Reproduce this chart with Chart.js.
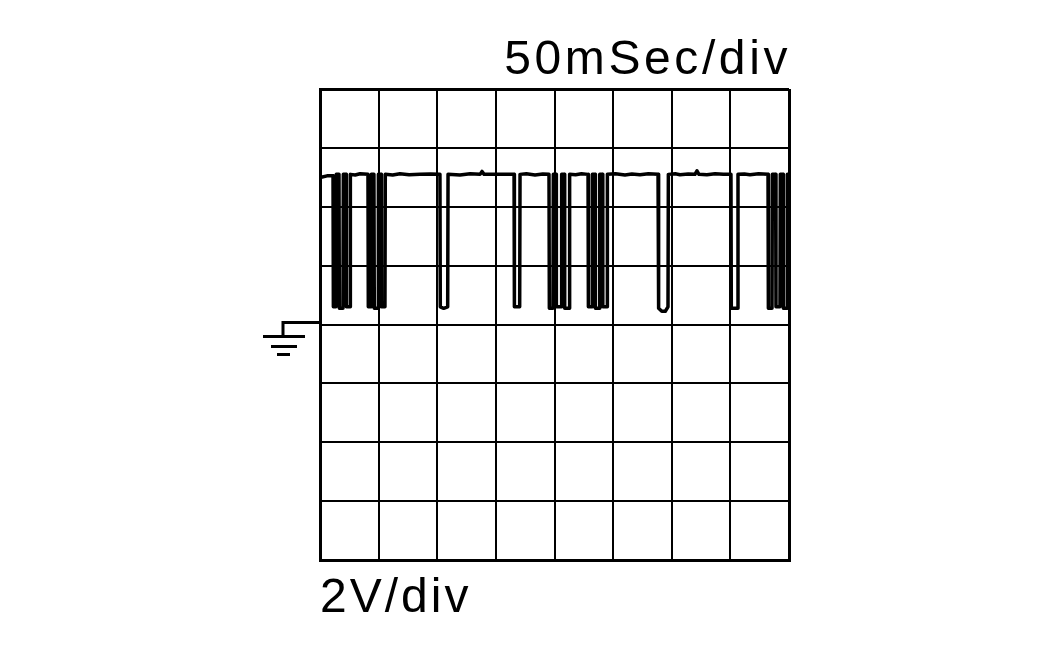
<!DOCTYPE html>
<html>
<head>
<meta charset="utf-8">
<script src="https://cdn.jsdelivr.net/npm/chart.js@4/dist/chart.umd.min.js"></script>
<style>
  html, body { margin: 0; padding: 0; background: #fff; }
  #wrap { width: 1052px; height: 650px; }
</style>
</head>
<body>
<div id="wrap"><canvas id="scope"></canvas></div>
<script>
// trace, time in ms (50 ms/div), voltage in V (2 V/div)
var traceTime = [
  1, 6, 11.1, 11.4, 13.6, 13.9, 16.2, 16.5, 19.6, 19.9, 22.2, 22.5, 25.6, 25.9,
  30.0, 34.1, 40.9, 41.2, 43.5, 43.8, 46.0, 46.3, 49.5, 49.8, 52.1, 52.4, 55.4, 55.7,
  62.0, 68.2, 76.0, 85.3, 94.0, 102.3, 102.6, 105.5, 108.9, 109.2, 119.4, 128.0, 136.5,
  138.2, 140.0, 153.5, 165.5, 165.8, 170.3, 170.6, 176.0, 183.4, 190.0, 195.3, 195.6,
  198.7, 199.0, 201.3, 201.6, 205.8, 206.1, 208.4, 208.7, 212.6, 212.9, 218.0, 223.0,
  228.6, 228.9, 232.0, 232.3, 234.6, 234.9, 238.3, 238.6, 240.9, 241.2, 244.8, 245.1,
  252.0, 260.1, 266.0, 272.9, 280.0, 288.3, 288.8, 291.5, 294.5, 296.8, 297.1, 303.0,
  307.0, 314.0, 319.8, 321.5, 323.2, 330.0, 336.9, 344.0, 350.5, 350.8, 356.2, 356.5,
  362.0, 366.7, 374.0, 382.1, 382.4, 385.5, 385.8, 388.6, 388.9, 392.3, 392.6, 394.9,
  395.2, 398.3, 398.6, 400
];
var traceVolt = [
  5.0, 5.05, 5.05, 0.6, 0.6, 5.1, 5.1, 0.55, 0.55, 5.1, 5.1, 0.6, 0.6, 5.1,
  5.08, 5.12, 5.1, 0.6, 0.6, 5.1, 5.1, 0.55, 0.55, 5.1, 5.1, 0.6, 0.6, 5.1,
  5.08, 5.12, 5.09, 5.1, 5.11, 5.1, 0.6, 0.55, 0.6, 5.1, 5.08, 5.12, 5.1,
  5.2, 5.1, 5.1, 5.1, 0.6, 0.6, 5.1, 5.12, 5.08, 5.11, 5.1, 0.55,
  0.55, 5.1, 5.1, 0.6, 0.6, 5.1, 5.1, 0.55, 0.55, 5.1, 5.09, 5.12,
  5.1, 0.6, 0.6, 5.1, 5.1, 0.55, 0.55, 5.1, 5.1, 0.6, 0.6, 5.1,
  5.12, 5.08, 5.11, 5.09, 5.12, 5.1, 0.55, 0.45, 0.45, 0.6, 5.1, 5.12,
  5.09, 5.11, 5.1, 5.22, 5.1, 5.09, 5.12, 5.1, 5.1, 0.55, 0.55, 5.1,
  5.11, 5.09, 5.12, 5.1, 0.55, 0.55, 5.1, 5.1, 0.6, 0.6, 5.1,
  5.1, 0.55, 0.55, 5.1
];
var timeDivs = [0, 50, 100, 150, 200, 250, 300, 350, 400];
var voltDivs = [-8, -6, -4, -2, 0, 2, 4, 6, 8];
var timeLabel = "50mSec/div";
var voltLabel = "2V/div";

var points = traceTime.map(function (t, i) {
  return { x: t, y: traceVolt[i] };
});

// edge lines a bit heavier than the inner grid
function gridWidth(ctx) {
  var last = ctx.scale.ticks.length - 1;
  return ctx.index === 0 || ctx.index === last ? 3 : 2;
}

var labelsPlugin = {
  id: "scopeLabels",
  afterDraw: function (c) {
    var ctx = c.ctx;
    var area = c.chartArea;
    ctx.save();
    ctx.fillStyle = "#000";
    ctx.font = "48px 'Liberation Sans', Arial, sans-serif";
    ctx.letterSpacing = "3.6px";
    ctx.textBaseline = "alphabetic";
    ctx.textAlign = "right";
    ctx.fillText(timeLabel, area.right + 2, area.top - 15);
    ctx.letterSpacing = "3px";
    ctx.textAlign = "left";
    ctx.fillText(voltLabel, area.left, area.bottom + 52);
    ctx.restore();
  }
};

var groundPlugin = {
  id: "groundMark",
  afterDraw: function (c) {
    var ctx = c.ctx;
    var left = c.chartArea.left;
    var y0 = c.scales.y.getPixelForValue(0) - 2;
    ctx.save();
    ctx.strokeStyle = "#000";
    ctx.lineWidth = 3;
    ctx.beginPath();
    ctx.moveTo(left, y0);
    ctx.lineTo(left - 37, y0);
    ctx.lineTo(left - 37, y0 + 14);
    ctx.moveTo(left - 57, y0 + 14);
    ctx.lineTo(left - 15, y0 + 14);
    ctx.moveTo(left - 49, y0 + 24);
    ctx.lineTo(left - 23, y0 + 24);
    ctx.moveTo(left - 43, y0 + 32);
    ctx.lineTo(left - 30, y0 + 32);
    ctx.stroke();
    ctx.restore();
  }
};

var chart = new Chart(document.getElementById("scope").getContext("2d"), {
  type: "line",
  data: {
    datasets: [
      {
        label: "trace",
        data: points,
        borderColor: "#000",
        borderWidth: 3.5,
        pointRadius: 0,
        tension: 0,
        fill: false,
        borderJoinStyle: "round",
        borderCapStyle: "round"
      }
    ]
  },
  options: {
    responsive: true,
    maintainAspectRatio: false,
    animation: false,
    layout: { padding: { left: 320, right: 263, top: 89, bottom: 90 } },
    plugins: {
      legend: { display: false },
      tooltip: { enabled: false }
    },
    scales: {
      x: {
        type: "linear",
        min: timeDivs[0],
        max: timeDivs[timeDivs.length - 1],
        afterBuildTicks: function (s) {
          s.ticks = timeDivs.map(function (v) { return { value: v }; });
        },
        ticks: { display: false },
        grid: { color: "#000", lineWidth: gridWidth, drawTicks: false },
        border: { display: true, color: "#000", width: 3 }
      },
      y: {
        type: "linear",
        min: voltDivs[0],
        max: voltDivs[voltDivs.length - 1],
        afterBuildTicks: function (s) {
          s.ticks = voltDivs.map(function (v) { return { value: v }; });
        },
        ticks: { display: false },
        grid: { color: "#000", lineWidth: gridWidth, drawTicks: false },
        border: { display: true, color: "#000", width: 3 }
      }
    }
  },
  plugins: [labelsPlugin, groundPlugin]
});
</script>
</body>
</html>
